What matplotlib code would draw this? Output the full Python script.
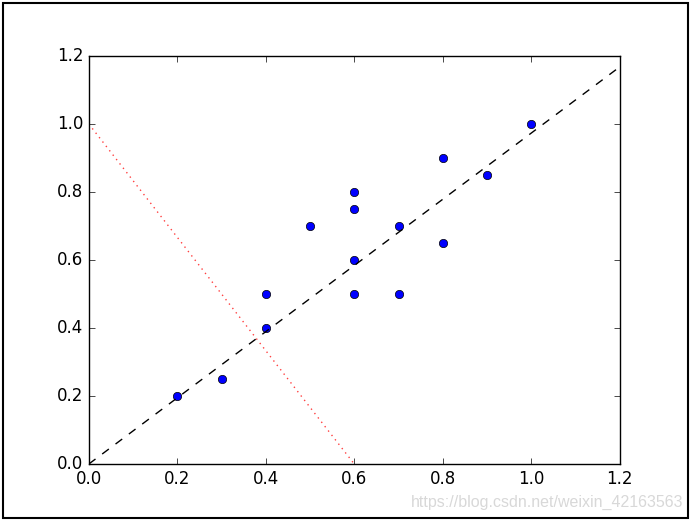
import matplotlib
matplotlib.use("Agg")
import matplotlib.pyplot as plt
import numpy as np
from matplotlib.patches import Rectangle

# data points
x_pts = [0.2, 0.3, 0.4, 0.4, 0.5, 0.6, 0.6, 0.6, 0.6, 0.7, 0.7, 0.8, 0.8, 0.9, 1.0]
y_pts = [0.2, 0.25, 0.4, 0.5, 0.7, 0.5, 0.6, 0.75, 0.8, 0.5, 0.7, 0.65, 0.9, 0.85, 1.0]

# fitted direction (dashed) and perpendicular-ish line (dotted)
dash_x = [0.0, 1.2]
dash_y = [0.0, 1.168]
dot_x = [0.0, 0.6]
dot_y = [1.0, 0.0]

plt.style.use("classic")
plt.rcParams["figure.facecolor"] = "white"
plt.rcParams["savefig.facecolor"] = "white"

fig = plt.figure(figsize=(6.94, 5.21), dpi=100)
ax = fig.add_axes([0.128, 0.1094, 0.765, 0.7831])

ax.plot(x_pts, y_pts, "bo", markersize=6)
ax.plot(dash_x, dash_y, "k--")
ax.plot(dot_x, dot_y, "r:", alpha=0.75)

ax.set_xlim(0, 1.2)
ax.set_ylim(0, 1.2)
ax.set_xticks(np.arange(0, 1.21, 0.2))
ax.set_yticks(np.arange(0, 1.21, 0.2))

# screenshot frame and watermark
fig.patches.append(Rectangle((0.004, 0.006), 0.988, 0.988, transform=fig.transFigure,
                             fill=False, edgecolor="black", linewidth=1.5))
fig.text(0.984, 0.022, "https://blog.csdn.net/weixin_42163563", ha="right", va="bottom",
         color="#d8d8d8", fontsize=11.5, family="Liberation Sans")

fig.savefig("out.png", dpi=100)
